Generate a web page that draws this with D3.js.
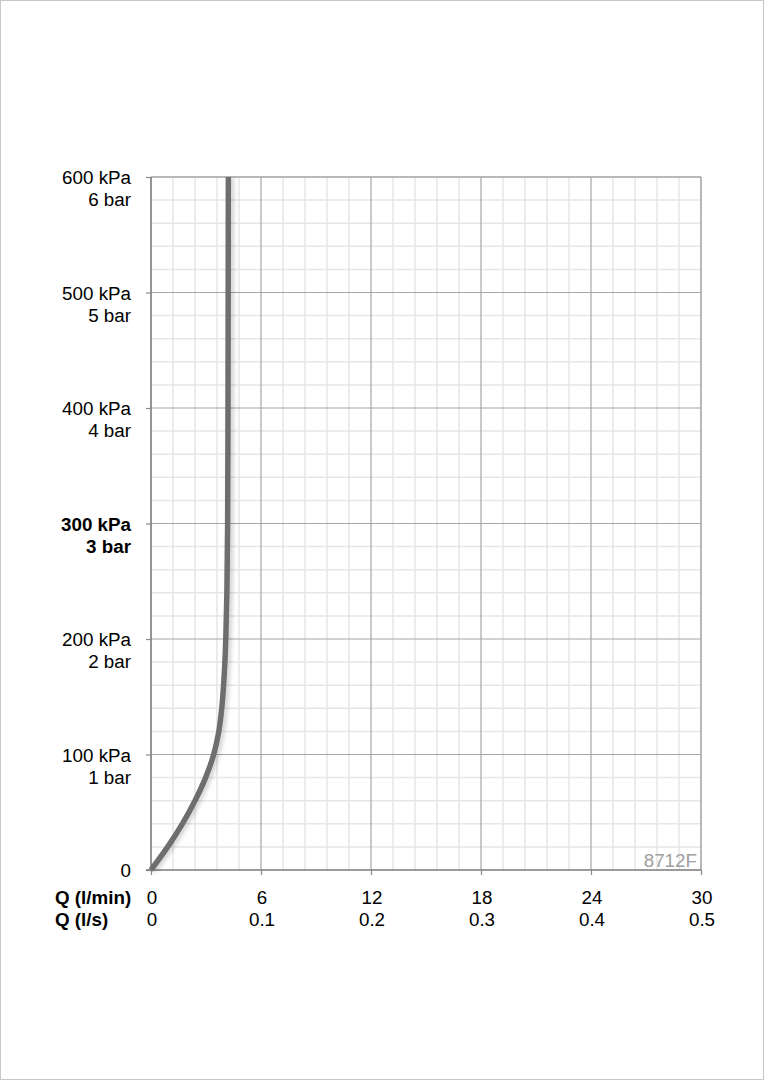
<!DOCTYPE html>
<html>
<head>
<meta charset="utf-8">
<script src="https://cdn.jsdelivr.net/npm/d3@7"></script>
<style>
  html, body { margin: 0; padding: 0; background: #fff; }
  svg { display: block; }
  text { font-family: "Liberation Sans", Arial, sans-serif; }
</style>
</head>
<body>
<svg id="chart" width="764" height="1080"></svg>
<script>
// ---- data ----
const flowLpm = [0, 0.91, 1.71, 2.40, 2.98, 3.42, 3.70, 3.86, 3.96, 4.03, 4.08, 4.14, 4.18, 4.2, 4.21, 4.22];
const pressureKpa = [0, 20, 40, 60, 80, 100, 120, 140, 160, 180, 200, 240, 300, 400, 500, 600];

const yTickValues = [0, 100, 200, 300, 400, 500, 600];
const yKpaLabels = ["0", "100 kPa", "200 kPa", "300 kPa", "400 kPa", "500 kPa", "600 kPa"];
const yBarLabels = ["", "1 bar", "2 bar", "3 bar", "4 bar", "5 bar", "6 bar"];
const yBoldValue = 300;

const xTickValues = [0, 6, 12, 18, 24, 30];
const xLpmLabels = ["0", "6", "12", "18", "24", "30"];
const xLpsLabels = ["0", "0.1", "0.2", "0.3", "0.4", "0.5"];
const xRowTitles = ["Q (l/min)", "Q (l/s)"];
const modelCode = "8712F";

// ---- layout ----
const svg = d3.select("#chart");
const W = 764, H = 1080;
const pLeft = 151, pRight = 701, pTop = 177, pBottom = 870;
const FS = 18.8;

const x = d3.scaleLinear().domain([0, 30]).range([pLeft, pRight]);
const y = d3.scaleLinear().domain([0, 600]).range([pBottom, pTop]);

// page border
svg.append("rect").attr("x", 0.5).attr("y", 0.5).attr("width", W - 1).attr("height", H - 1)
  .attr("fill", "#fff").attr("stroke", "#c8c8c8").attr("stroke-width", 1);

// shadow filter
const defs = svg.append("defs");
const f = defs.append("filter").attr("id", "sh").attr("x", "-50%").attr("y", "-5%").attr("width", "200%").attr("height", "110%");
f.append("feGaussianBlur").attr("in", "SourceAlpha").attr("stdDeviation", 2).attr("result", "b");
f.append("feOffset").attr("in", "b").attr("dx", 3).attr("dy", 1).attr("result", "o");
f.append("feComponentTransfer").attr("in", "o").attr("result", "o2")
  .append("feFuncA").attr("type", "linear").attr("slope", 0.18);
const mg = f.append("feMerge");
mg.append("feMergeNode").attr("in", "o2");
mg.append("feMergeNode").attr("in", "SourceGraphic");

// minor grid
const xMinor = d3.range(0, 30.001, 1.2).filter(v => Math.abs(v / 6 - Math.round(v / 6)) > 1e-6);
const yMinor = d3.range(0, 600.001, 20).filter(v => v % 100 !== 0);
const g = svg.append("g");
g.selectAll(".xm").data(xMinor).join("line")
  .attr("x1", d => x(d)).attr("x2", d => x(d)).attr("y1", pTop).attr("y2", pBottom)
  .attr("stroke", "#e6e6e6").attr("stroke-width", 1.5);
g.selectAll(".ym").data(yMinor).join("line")
  .attr("x1", pLeft).attr("x2", pRight).attr("y1", d => y(d)).attr("y2", d => y(d))
  .attr("stroke", "#e6e6e6").attr("stroke-width", 1.5);

// major grid
g.selectAll(".xM").data(xTickValues.slice(1, -1)).join("line")
  .attr("x1", d => x(d)).attr("x2", d => x(d)).attr("y1", pTop).attr("y2", pBottom)
  .attr("stroke", "#a6a6a6").attr("stroke-width", 1.2);
g.selectAll(".yM").data(yTickValues.slice(1, -1)).join("line")
  .attr("x1", pLeft).attr("x2", pRight).attr("y1", d => y(d)).attr("y2", d => y(d))
  .attr("stroke", "#a6a6a6").attr("stroke-width", 1.2);

// frame: top & right
g.append("line").attr("x1", pLeft).attr("x2", pRight).attr("y1", pTop).attr("y2", pTop)
  .attr("stroke", "#a0a0a0").attr("stroke-width", 1.5);
g.append("line").attr("x1", pRight).attr("x2", pRight).attr("y1", pTop).attr("y2", pBottom)
  .attr("stroke", "#a0a0a0").attr("stroke-width", 1.5);

// axes via d3 axis (ticks only, labels custom)
const yAxis = d3.axisLeft(y).tickValues(yTickValues).tickSize(5).tickFormat("");
const ya = svg.append("g").attr("transform", `translate(${pLeft},0)`).call(yAxis);
ya.select(".domain").attr("stroke", "#7a7a7a").attr("stroke-width", 1.6).attr("d", `M0,${pTop}V${pBottom}`);
ya.selectAll(".tick line").attr("stroke", "#8a8a8a").attr("stroke-width", 1.2);

const xAxis = d3.axisBottom(x).tickValues(xTickValues).tickSize(5).tickFormat("");
const xa = svg.append("g").attr("transform", `translate(0,${pBottom})`).call(xAxis);
xa.select(".domain").attr("stroke", "#7a7a7a").attr("stroke-width", 1.6).attr("d", `M${pLeft - 5},0H${pRight}`);
xa.selectAll(".tick line").attr("stroke", "#8a8a8a").attr("stroke-width", 1.2);

// y labels
const yl = svg.append("g").attr("font-size", FS).attr("fill", "#000").attr("text-anchor", "end");
yTickValues.forEach((v, i) => {
  const t = yl.append("text").attr("x", 131).attr("y", y(v) + 7)
    .attr("font-weight", v === yBoldValue ? "bold" : "normal");
  t.append("tspan").attr("x", 131).text(yKpaLabels[i]);
  if (yBarLabels[i]) t.append("tspan").attr("x", 131).attr("dy", 22).text(yBarLabels[i]);
});

// x labels
const xl = svg.append("g").attr("font-size", FS).attr("fill", "#000");
xl.selectAll(".l1").data(xTickValues).join("text")
  .attr("x", d => x(d) + 1).attr("y", 904).attr("text-anchor", "middle")
  .text((d, i) => xLpmLabels[i]);
xl.selectAll(".l2").data(xTickValues).join("text")
  .attr("x", d => x(d) + 1).attr("y", 926).attr("text-anchor", "middle")
  .text((d, i) => xLpsLabels[i]);
xl.selectAll(".t").data(xRowTitles).join("text")
  .attr("x", 55).attr("y", (d, i) => 904 + i * 22).attr("font-weight", "bold")
  .text(d => d);

// model code
svg.append("text").attr("x", 697).attr("y", 867).attr("text-anchor", "end")
  .attr("font-size", FS).attr("fill", "#a0a0a0").text(modelCode);

// curve
const pts = flowLpm.map((q, i) => [q, pressureKpa[i]]);
const line = d3.line().x(d => x(d[0])).y(d => y(d[1])).curve(d3.curveCatmullRom.alpha(0.5));
svg.append("path").datum(pts).attr("d", line)
  .attr("fill", "none").attr("stroke", "#6e6e6e").attr("stroke-width", 5.5)
  .attr("stroke-linecap", "butt").attr("filter", "url(#sh)");
</script>
</body>
</html>
